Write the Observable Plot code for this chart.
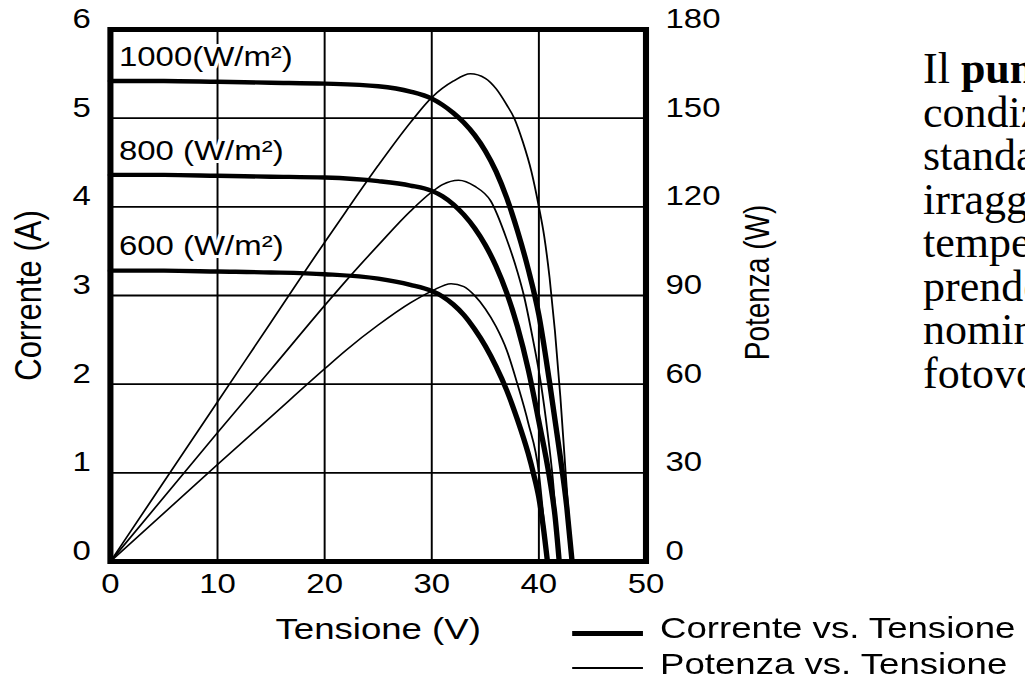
<!DOCTYPE html>
<html>
<head>
<meta charset="utf-8">
<script src="https://cdn.jsdelivr.net/npm/d3@7"></script>
<script src="https://cdn.jsdelivr.net/npm/@observablehq/plot@0.6"></script>
<style>
  html, body { margin: 0; padding: 0; background: #fff; width: 1025px; height: 688px; overflow: hidden; }
  #wrap { position: absolute; left: 0; top: 0; width: 660px; height: 688px; transform: scaleX(1.22); transform-origin: 0 0; }
  #chart svg { display: block; }
  .legline { position: absolute; background: #000; }
  .legtext { position: absolute; font-family: "Liberation Sans", Arial, sans-serif; font-size: 30px; line-height: 30px; white-space: nowrap; color: #000; }
  #note { position: absolute; left: 923px; top: 47px; font-family: "Liberation Serif", "Times New Roman", serif; font-size: 44px; line-height: 43.5px; white-space: nowrap; color: #000; }
</style>
</head>
<body>
<div id="wrap">
  <div id="chart"></div>
  <div class="legline" style="left:469px; top:630.5px; width:58px; height:5px;"></div>
  <div class="legtext" style="left:541px; top:612.6px;">Corrente vs. Tensione</div>
  <div class="legline" style="left:469px; top:667.2px; width:58px; height:1.6px;"></div>
  <div class="legtext" style="left:541px; top:648.6px;">Potenza vs. Tensione</div>
</div>
<div id="note">
  <div>Il <b>punto di massima potenza</b> in</div>
  <div>condizioni di prova standard</div>
  <div>standard (STC), cioè con</div>
  <div>irraggiamento di 1000 W/m² e</div>
  <div>temperatura di 25 °C,</div>
  <div>prende il nome di potenza</div>
  <div>nominale del modulo</div>
  <div>fotovoltaico.</div>
</div>
<script>
// ---- tick values ----
const xTicks = [0, 10, 20, 30, 40, 50];
const currentTicks = [0, 1, 2, 3, 4, 5, 6];
const powerTicks = [0, 30, 60, 90, 120, 150, 180];

// ---- series: irradiance levels ----
const irradiance = ["1000", "800", "600"];
const irradianceLabels = ["1000(W/m²)", "800 (W/m²)", "600 (W/m²)"];

// ---- current vs voltage (A vs V) ----
const voltageI1000 = [0, 5, 10, 15, 20, 25, 28, 30, 31, 32, 33, 34, 35, 36, 37, 38, 39, 40, 41, 42, 42.6, 43.1];
const current1000  = [5.42, 5.42, 5.41, 5.40, 5.39, 5.36, 5.30, 5.22, 5.15, 5.06, 4.95, 4.81, 4.63, 4.40, 4.10, 3.73, 3.30, 2.78, 2.02, 1.18, 0.62, 0];

const voltageI800 = [0, 5, 10, 15, 20, 25, 28, 30, 31, 32, 33, 34, 35, 36, 37, 38, 39, 40, 41, 41.5, 41.9];
const current800  = [4.36, 4.36, 4.35, 4.34, 4.33, 4.29, 4.24, 4.18, 4.12, 4.03, 3.91, 3.76, 3.57, 3.33, 3.03, 2.65, 2.17, 1.58, 0.94, 0.52, 0];

const voltageI600 = [0, 5, 10, 15, 20, 25, 28, 30, 31, 32, 33, 34, 35, 36, 37, 38, 39, 39.5, 40, 40.4, 40.8];
const current600  = [3.28, 3.28, 3.27, 3.26, 3.24, 3.19, 3.12, 3.05, 2.99, 2.90, 2.78, 2.62, 2.43, 2.20, 1.93, 1.60, 1.22, 0.99, 0.72, 0.40, 0];

// ---- power vs voltage (W vs V) ----
const voltageP1000 = [0, 10, 15, 20, 22, 25, 28, 30, 32, 33.6, 35, 36, 37, 37.7, 38.5, 39.3, 40, 40.5, 41, 41.5, 42, 42.5, 43.1];
const power1000    = [0, 54, 81, 108, 118.5, 134, 148.5, 157, 162.5, 165, 163.5, 160, 154.5, 150, 142, 132, 120, 110, 96, 78, 56, 30, 0];

const voltageP800 = [0, 10, 15, 20, 22, 25, 28, 30, 31, 32.5, 34, 35.5, 37, 38, 38.6, 39.4, 40.2, 40.8, 41.3, 41.9];
const power800    = [0, 43.6, 65, 86.6, 95, 107, 118.5, 125, 127.5, 129, 127, 122, 109, 98, 90, 76, 60, 44, 28, 0];

const voltageP600 = [0, 10, 15, 20, 22, 25, 28, 30, 31.8, 33, 34, 35, 36, 37, 38, 39, 40, 40.4, 40.8];
const power600    = [0, 32.8, 49, 65.2, 71.5, 80, 87.5, 91.5, 94, 93, 90, 85.5, 79.5, 71.5, 60, 47, 30, 16, 0];

// ---- build tables ----
const currentSeries = [[voltageI1000, current1000], [voltageI800, current800], [voltageI600, current600]];
const powerSeries = [[voltageP1000, power1000], [voltageP800, power800], [voltageP600, power600]];
const currentRows = currentSeries.flatMap(([vs, is], k) => vs.map((v, i) => ({irr: irradiance[k], V: v, I: is[i]})));
const powerRows = powerSeries.flatMap(([vs, ps], k) => vs.map((v, i) => ({irr: irradiance[k], V: v, P: ps[i]})));
const labelRows = irradiance.map((irr, k) => ({label: irradianceLabels[k], V: currentSeries[k][0][0], I: currentSeries[k][1][0]}));

// right axis: watts per ampere on the shared vertical scale
const wattsPerAmp = powerTicks[powerTicks.length - 1] / currentTicks[currentTicks.length - 1];

const font = "Liberation Sans, Arial, Helvetica, sans-serif";

const chart = Plot.plot({
  width: 660,
  height: 688,
  marginLeft: 90,
  marginRight: 131,
  marginTop: 29,
  marginBottom: 127,
  style: {fontFamily: font, background: "white", color: "black", overflow: "visible"},
  x: {domain: [xTicks[0], xTicks[xTicks.length - 1]]},
  y: {domain: [currentTicks[0], currentTicks[currentTicks.length - 1]]},
  marks: [
    Plot.gridX(xTicks, {stroke: "black", strokeOpacity: 1, strokeWidth: 1.6}),
    Plot.gridY(currentTicks, {stroke: "black", strokeOpacity: 1, strokeWidth: 1.8}),
    Plot.line(powerRows, {x: "V", y: d => d.P / wattsPerAmp, z: "irr", stroke: "black", strokeWidth: 1.5, curve: "monotone-x"}),
    Plot.line(currentRows, {x: "V", y: "I", z: "irr", stroke: "black", strokeWidth: 4.4, curve: "monotone-x"}),
    Plot.text(labelRows, {x: "V", y: "I", text: "label", textAnchor: "start", lineAnchor: "middle", dx: 7, dy: -24, fontSize: 27, fill: "black", stroke: "white", strokeWidth: 6}),
    Plot.axisX(xTicks, {anchor: "bottom", tickSize: 0, tickPadding: 12, fontSize: 27, label: null, tickFormat: d => String(d)}),
    Plot.axisY(currentTicks, {anchor: "left", tickSize: 0, tickPadding: 16, fontSize: 27, dy: -10, label: null, tickFormat: d => String(d)}),
    Plot.axisY(currentTicks, {anchor: "right", tickSize: 0, tickPadding: 16, fontSize: 27, dy: -10, label: null,
      tickFormat: d => String(powerTicks[currentTicks.indexOf(d)])}),
    Plot.text(["Tensione (V)"], {text: d => d, frameAnchor: "bottom", textAnchor: "middle", lineAnchor: "middle", dy: 68, fontSize: 30}),
    Plot.text(["Corrente (A)"], {text: d => d, frameAnchor: "left", textAnchor: "middle", lineAnchor: "middle", rotate: -90, dx: -66.6, fontSize: 31}),
    Plot.text(["Potenza (W)"], {text: d => d, frameAnchor: "right", textAnchor: "middle", lineAnchor: "middle", rotate: -90, dx: 92, dy: -13, fontSize: 28}),
    Plot.frame({stroke: "black", strokeWidth: 5})
  ]
});
document.getElementById("chart").appendChild(chart);
</script>
</body>
</html>
